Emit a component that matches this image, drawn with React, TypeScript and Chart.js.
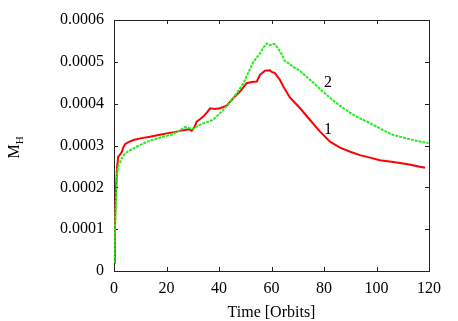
import React, { useEffect, useRef } from "react";
import { Chart, registerables } from "chart.js";

Chart.register(...registerables);

// Series 1 (red)
const redTime = [0, 0.3, 0.7, 1.2, 1.6, 2.3, 3.0, 3.5, 4.2, 5.5, 7.4, 10, 13.7, 17, 20.1, 23, 25.1, 27, 28.3, 29.6, 30.5, 31.5, 33, 34, 35.5, 36.6, 38.5, 40.4, 42.9, 45.4, 48, 50.5, 52.5, 54.4, 55.6, 57.5, 59.4, 60.1, 61.3, 63.2, 64.5, 67, 70.9, 74.7, 78.5, 82.3, 86.1, 90, 93.7, 97.5, 101.3, 105, 109, 113, 116, 118.5];
const redValues = [0.00002, 0.0001, 0.00019, 0.00025, 0.000273, 0.000278, 0.000285, 0.000295, 0.000303, 0.000308, 0.000313, 0.000317, 0.000321, 0.000325, 0.000329, 0.000332, 0.000335, 0.000337, 0.000339, 0.000335, 0.000342, 0.000357, 0.000364, 0.000369, 0.00038, 0.000389, 0.000387, 0.000389, 0.000395, 0.000413, 0.000429, 0.000449, 0.000452, 0.000453, 0.000469, 0.000479, 0.00048, 0.000476, 0.000473, 0.000457, 0.000441, 0.000415, 0.000389, 0.000361, 0.000333, 0.000309, 0.000295, 0.000285, 0.000277, 0.000271, 0.000265, 0.000262, 0.000258, 0.000254, 0.00025, 0.000247];

// Series 2 (green)
const greenTime = [0, 0.3, 0.8, 1.3, 1.8, 2.3, 3, 4.2, 6.1, 8, 9.9, 13.7, 17, 20.1, 22, 25.1, 27, 28.5, 30.2, 32, 34, 36, 37.8, 39.5, 41.6, 43.5, 45.4, 47.5, 49.3, 51, 53.1, 55.6, 57, 58.2, 59.4, 60.5, 61.3, 62.5, 63.9, 65.1, 66.4, 68.3, 70.9, 74.7, 78, 81, 84, 87.4, 90.5, 93.7, 97, 100.1, 103, 106.4, 109.5, 112.8, 116, 119.8];
const greenValues = [0.00002, 0.00009, 0.00018, 0.00024, 0.000255, 0.00026, 0.00027, 0.000281, 0.000289, 0.000295, 0.000301, 0.000312, 0.000318, 0.000323, 0.000326, 0.000336, 0.000344, 0.000342, 0.00034, 0.000347, 0.000353, 0.000357, 0.000362, 0.000372, 0.000385, 0.000398, 0.000413, 0.000432, 0.000449, 0.000472, 0.0005, 0.00052, 0.000535, 0.000544, 0.00054, 0.000543, 0.000542, 0.000532, 0.000518, 0.000502, 0.000497, 0.000488, 0.000478, 0.000457, 0.000438, 0.000421, 0.000405, 0.000389, 0.000376, 0.000365, 0.000355, 0.000345, 0.000335, 0.000325, 0.00032, 0.000315, 0.00031, 0.000306];

// Curve labels
const curveLabels = ["1", "2"];
const curveLabelX = [81.5, 81.5];
const curveLabelY = [0.000337, 0.000449];

const xTitle = "Time [Orbits]";
const yTitleMain = "M";
const yTitleSub = "H";

const FONT = "'Liberation Serif', 'Times New Roman', serif";

const framePlugin = {
  id: "gnuframe",
  beforeDatasetsDraw(chart: any) {
    const { ctx, chartArea } = chart;
    const { left, right, top, bottom } = chartArea;
    const xs = chart.scales.x;
    const ys = chart.scales.y;
    ctx.save();
    ctx.strokeStyle = "#222";
    ctx.lineWidth = 1;
    ctx.strokeRect(Math.round(left) + 0.5, Math.round(top) + 0.5, Math.round(right - left), Math.round(bottom - top));
    const tl = 4;
    ctx.beginPath();
    xs.ticks.forEach((t: any) => {
      const px = Math.round(xs.getPixelForValue(t.value)) + 0.5;
      ctx.moveTo(px, bottom);
      ctx.lineTo(px, bottom - tl);
      ctx.moveTo(px, top);
      ctx.lineTo(px, top + tl);
    });
    ys.ticks.forEach((t: any) => {
      const py = Math.round(ys.getPixelForValue(t.value)) + 0.5;
      ctx.moveTo(left, py);
      ctx.lineTo(left + tl, py);
      ctx.moveTo(right, py);
      ctx.lineTo(right - tl, py);
    });
    ctx.stroke();
    ctx.restore();
  },
  afterDraw(chart: any) {
    const { ctx, chartArea } = chart;
    const xs = chart.scales.x;
    const ys = chart.scales.y;
    ctx.save();
    ctx.fillStyle = "#000";
    ctx.font = `16px ${FONT}`;
    ctx.textAlign = "center";
    ctx.textBaseline = "middle";
    // curve labels
    curveLabels.forEach((lab, i) => {
      ctx.fillText(lab, xs.getPixelForValue(curveLabelX[i]), ys.getPixelForValue(curveLabelY[i]));
    });
    // x title
    ctx.fillText(xTitle, (chartArea.left + chartArea.right) / 2, 313);
    // y title rotated
    ctx.translate(17, (chartArea.top + chartArea.bottom) / 2 + 2);
    ctx.rotate(-Math.PI / 2);
    ctx.textAlign = "left";
    ctx.font = `16px ${FONT}`;
    const wM = ctx.measureText(yTitleMain).width;
    ctx.font = `11px ${FONT}`;
    const wH = ctx.measureText(yTitleSub).width;
    const total = wM + wH;
    ctx.font = `16px ${FONT}`;
    ctx.fillText(yTitleMain, -total / 2, -2);
    ctx.font = `11px ${FONT}`;
    ctx.fillText(yTitleSub, -total / 2 + wM, 3);
    ctx.restore();
  },
};

export default function App() {
  const ref = useRef<HTMLCanvasElement | null>(null);
  useEffect(() => {
    document.body.style.margin = "0";
    const canvas = ref.current!;
    const chart = new Chart(canvas, {
      type: "line",
      data: {
        datasets: [
          {
            label: "1",
            data: redTime.map((t, i) => ({ x: t, y: redValues[i] })),
            borderColor: "#ff0000",
            borderWidth: 2,
            pointRadius: 0,
            tension: 0,
            fill: false,
            order: 2,
          },
          {
            label: "2",
            data: greenTime.map((t, i) => ({ x: t, y: greenValues[i] })),
            borderColor: "#22ee22",
            borderWidth: 2,
            borderDash: [3, 1],
            pointRadius: 0,
            tension: 0,
            fill: false,
            order: 1,
          },
        ],
      },
      options: {
        animation: false,
        responsive: false,
        devicePixelRatio: 1,
        layout: { padding: { top: 20, right: 29, left: 0, bottom: 0 } },
        plugins: { legend: { display: false }, tooltip: { enabled: false }, title: { display: false } },
        scales: {
          x: {
            type: "linear",
            min: 0,
            max: 120,
            grid: { display: false, drawTicks: false },
            border: { display: false },
            ticks: {
              stepSize: 20,
              color: "#000",
              padding: 8,
              maxRotation: 0,
              font: { family: FONT, size: 16 },
            },
            afterFit: (s: any) => {
              s.height = 50;
            },
          },
          y: {
            type: "linear",
            min: 0,
            max: 0.0006,
            grid: { display: false, drawTicks: false },
            border: { display: false },
            ticks: {
              stepSize: 0.0001,
              color: "#000",
              padding: 10,
              font: { family: FONT, size: 16 },
              callback: (v: any) => (Math.abs(v) < 1e-12 ? "0" : Number(v).toFixed(4)),
            },
            afterFit: (s: any) => {
              s.width = 114;
            },
          },
        },
      },
      plugins: [framePlugin],
    });
    return () => chart.destroy();
  }, []);
  return (
    <div style={{ position: "absolute", left: 0, top: 0, width: 458, height: 321 }}>
      <canvas ref={ref} width={458} height={321} style={{ display: "block" }} />
    </div>
  );
}
